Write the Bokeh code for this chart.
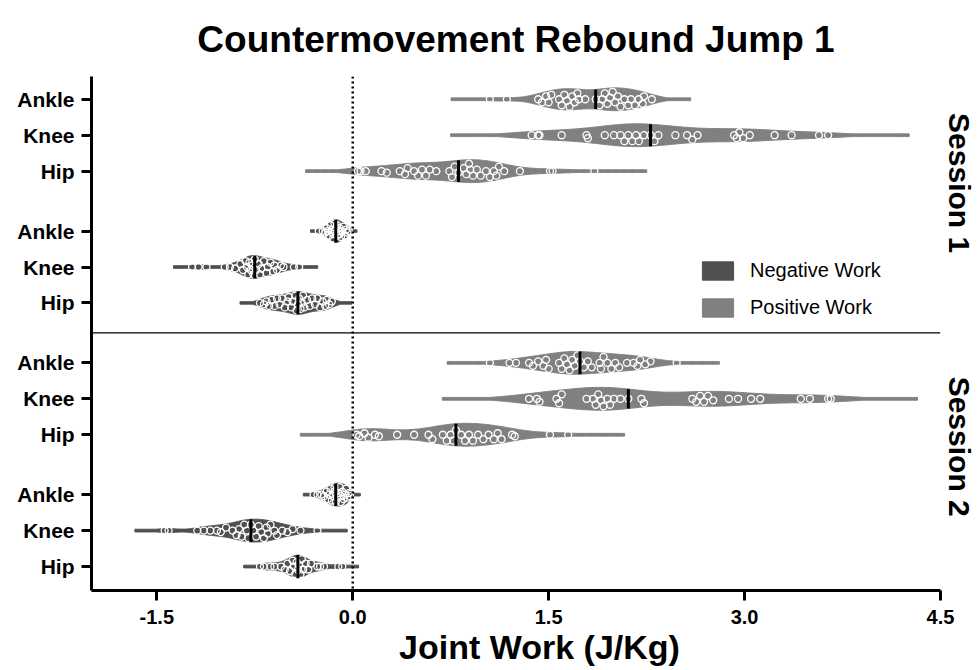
import numpy as np
from bokeh.plotting import figure
from bokeh.models import (Range1d, FixedTicker, NumeralTickFormatter, Span,
                          Legend, LegendItem, ColumnDataSource, LinearAxis)
from bokeh.embed import file_html
from bokeh.resources import INLINE

# ---------------- data ----------------
title_text = "Countermovement Rebound Jump 1"
x_label = "Joint Work (J/Kg)"
joints = ["Ankle", "Knee", "Hip"]
session_labels = ["Session 1", "Session 2"]
work_labels = ["Negative Work", "Positive Work"]
x_ticks = [-1.5, 0.0, 1.5, 3.0, 4.5]

s1_pos_ankle = [1.05, 1.18, 1.42, 1.45, 1.48, 1.50, 1.52, 1.58, 1.60, 1.62, 1.64, 1.66,
                1.68, 1.70, 1.72, 1.73, 1.78, 1.86, 1.89, 1.91, 1.93, 1.95, 1.97, 1.99,
                2.01, 2.03, 2.05, 2.08, 2.11, 2.13, 2.16, 2.19, 2.22, 2.23, 2.29]
s1_pos_knee = [1.37, 1.42, 1.43, 1.60, 1.79, 1.80, 1.93, 2.00, 2.05, 2.08, 2.11, 2.14,
               2.17, 2.19, 2.23, 2.28, 2.31, 2.34, 2.47, 2.56, 2.60, 2.64, 2.92, 2.94,
               2.96, 2.99, 3.04, 3.23, 3.36, 3.57, 3.64]
s1_pos_hip = [0.04, 0.06, 0.10, 0.22, 0.26, 0.36, 0.40, 0.42, 0.47, 0.50, 0.53, 0.56,
              0.59, 0.64, 0.74, 0.76, 0.78, 0.81, 0.85, 0.87, 0.89, 0.90, 0.92, 0.95,
              0.98, 1.02, 1.05, 1.08, 1.10, 1.12, 1.16, 1.28, 1.51, 1.53, 1.85]

s1_neg_ankle = [-0.26, -0.23, -0.21, -0.20, -0.19, -0.18, -0.17, -0.16, -0.15, -0.15,
                -0.14, -0.14, -0.13, -0.12, -0.12, -0.11, -0.10, -0.10, -0.09, -0.08,
                -0.07, -0.06, -0.05, -0.04, -0.03]
s1_neg_knee = [-1.23, -1.18, -1.12, -0.98, -0.94, -0.90, -0.86, -0.84, -0.82, -0.81,
               -0.80, -0.79, -0.78, -0.77, -0.76, -0.75, -0.74, -0.72, -0.71, -0.70,
               -0.68, -0.66, -0.65, -0.63, -0.61, -0.60, -0.58, -0.55, -0.53, -0.45, -0.41]
s1_neg_hip = [-0.71, -0.68, -0.66, -0.64, -0.62, -0.60, -0.58, -0.56, -0.54, -0.52,
              -0.50, -0.49, -0.47, -0.46, -0.44, -0.43, -0.42, -0.41, -0.40, -0.39,
              -0.38, -0.37, -0.35, -0.33, -0.31, -0.29, -0.27, -0.25, -0.23, -0.21,
              -0.20, -0.18, -0.16]

s2_pos_ankle = [1.05, 1.20, 1.25, 1.35, 1.38, 1.42, 1.46, 1.48, 1.50, 1.58, 1.60, 1.62,
                1.64, 1.66, 1.68, 1.70, 1.72, 1.74, 1.77, 1.80, 1.83, 1.89, 1.90, 1.92,
                1.95, 1.98, 2.01, 2.04, 2.10, 2.15, 2.18, 2.20, 2.24, 2.28, 2.48]
s2_pos_knee = [1.35, 1.41, 1.43, 1.56, 1.58, 1.60, 1.79, 1.84, 1.86, 1.88, 1.90, 1.92,
               1.95, 1.97, 2.00, 2.05, 2.11, 2.21, 2.23, 2.60, 2.63, 2.66, 2.69, 2.72,
               2.76, 2.88, 2.95, 3.05, 3.12, 3.43, 3.50, 3.64, 3.66]
s2_pos_hip = [0.03, 0.05, 0.09, 0.12, 0.17, 0.20, 0.34, 0.47, 0.58, 0.61, 0.69, 0.72,
              0.75, 0.77, 0.79, 0.83, 0.86, 0.89, 0.92, 0.96, 1.00, 1.04, 1.08, 1.11,
              1.14, 1.22, 1.24, 1.51, 1.65]

s2_neg_ankle = [-0.30, -0.27, -0.24, -0.22, -0.20, -0.19, -0.18, -0.17, -0.16, -0.15,
                -0.14, -0.14, -0.13, -0.12, -0.11, -0.10, -0.09, -0.09, -0.08, -0.07,
                -0.06, -0.05, -0.04, -0.03, -0.02]
s2_neg_knee = [-1.44, -1.41, -1.19, -1.14, -1.09, -1.04, -1.01, -0.97, -0.92, -0.89,
               -0.87, -0.85, -0.83, -0.81, -0.80, -0.78, -0.76, -0.74, -0.72, -0.70,
               -0.68, -0.66, -0.65, -0.63, -0.60, -0.58, -0.54, -0.50, -0.46, -0.40, -0.27]
s2_neg_hip = [-0.71, -0.68, -0.63, -0.60, -0.55, -0.52, -0.50, -0.48, -0.46, -0.45,
              -0.44, -0.43, -0.42, -0.41, -0.40, -0.39, -0.38, -0.36, -0.34, -0.32,
              -0.27, -0.25, -0.22, -0.11, -0.08]

# groups top-to-bottom: (sign, [ankle, knee, hip])
groups = [
    ("pos", [s1_pos_ankle, s1_pos_knee, s1_pos_hip]),
    ("neg", [s1_neg_ankle, s1_neg_knee, s1_neg_hip]),
    ("pos", [s2_pos_ankle, s2_pos_knee, s2_pos_hip]),
    ("neg", [s2_neg_ankle, s2_neg_knee, s2_neg_hip]),
]

# ---------------- layout / style ----------------
W, H = 978, 668
BL, BT = 91, 75
FRAME_R, FRAME_B = 940, 592
BR, BB = W - FRAME_R, H - FRAME_B
FRAME_W = FRAME_R - BL
FRAME_H = FRAME_B - BT
X0, X1 = -2.0, 4.5
Y_TOP, Y_BOT = -1.9, 41.0
PX_X = FRAME_W / (X1 - X0)
PX_Y = FRAME_H / (Y_BOT - Y_TOP)
GROUP_STEP, ROW_STEP = 11, 3

NEG_COLOR = "#505050"
POS_COLOR = "#808080"
W_MAX = 11.5 / PX_Y
W_MIN = 1.4 / PX_Y
BW_FACTOR = 0.85
D_MIN = 6.5
FONT = "Liberation Sans"


def violin(vals):
    v = np.asarray(vals, float)
    n = len(v)
    sd = v.std(ddof=1)
    q75, q25 = np.percentile(v, [75, 25])
    bw = 0.9 * min(sd, (q75 - q25) / 1.34) * n ** -0.2 * BW_FACTOR
    g = np.linspace(v.min() - 2.6 * bw, v.max() + 2.6 * bw, 300)
    d = np.exp(-0.5 * ((g[:, None] - v[None, :]) / bw) ** 2).sum(1)
    hw = np.maximum(d / d.max() * W_MAX, W_MIN)
    return g, hw


def swarm(vals, g, hw):
    v = np.sort(np.asarray(vals, float))
    placed = []
    offs = []
    step = 1.5
    for val in v:
        xp = val * PX_X
        lim = max(0.0, np.interp(val, g, hw) * PX_Y - 3.0)
        cands = [0.0]
        k = 1
        while k * step <= lim:
            cands += [k * step, -k * step]
            k += 1
        best, best_d = 0.0, -1.0
        for c in cands:
            if placed:
                dmin = min(np.hypot(xp - px, c - py) for px, py in placed)
            else:
                dmin = 1e9
            if dmin >= D_MIN:
                best, best_d = c, dmin
                break
            if dmin > best_d:
                best, best_d = c, dmin
        placed.append((xp, best))
        offs.append(best / PX_Y)
    return v, np.array(offs)


p = figure(width=W, height=H, output_backend="svg", toolbar_location=None,
           x_range=Range1d(X0, X1), y_range=Range1d(Y_BOT, Y_TOP),
           min_border_left=BL, min_border_right=BR, min_border_top=BT,
           min_border_bottom=BB)
p.outline_line_color = None
p.xgrid.visible = False
p.ygrid.visible = False
p.background_fill_color = "white"
p.border_fill_color = "white"

src = {"neg": dict(xs=[], ys=[]), "pos": dict(xs=[], ys=[])}
pts_x, pts_y = [], []
med_x, med_y0, med_y1 = [], [], []
y_ticks, y_tick_labels = [], {}

for gi, (sign, rows) in enumerate(groups):
    for ji, vals in enumerate(rows):
        yc = gi * GROUP_STEP + ji * ROW_STEP
        y_ticks.append(yc)
        y_tick_labels[yc] = joints[ji]
        g, hw = violin(vals)
        src[sign]["xs"].append(np.concatenate([g, g[::-1]]).tolist())
        src[sign]["ys"].append(np.concatenate([yc - hw, (yc + hw)[::-1]]).tolist())
        v, offs = swarm(vals, g, hw)
        pts_x.extend(v.tolist())
        pts_y.extend((yc + offs).tolist())
        m = float(np.median(vals))
        hm = float(np.interp(m, g, hw))
        med_x.append(m)
        med_y0.append(yc - hm)
        med_y1.append(yc + hm)

r_neg = p.patches("xs", "ys", source=ColumnDataSource(src["neg"]),
                  fill_color=NEG_COLOR, line_color=NEG_COLOR, line_width=1)
r_pos = p.patches("xs", "ys", source=ColumnDataSource(src["pos"]),
                  fill_color=POS_COLOR, line_color=POS_COLOR, line_width=1)

p.scatter(pts_x, pts_y, marker="circle", size=7, fill_alpha=0,
          line_color="white", line_width=1.3)
p.segment(med_x, med_y0, med_x, med_y1, line_color="black", line_width=3)

# zero line and session separator
p.add_layout(Span(location=0, dimension="height", line_color="black",
                  line_width=2.5, line_dash="2 3"))
p.add_layout(Span(location=(GROUP_STEP * 2 - (GROUP_STEP - 2 * ROW_STEP) / 2),
                  dimension="width", line_color="black", line_width=1.2))

# axes
for ax in (p.xaxis, p.yaxis):
    ax.axis_line_width = 3
    ax.major_tick_line_width = 3
    ax.major_tick_in = 0
    ax.major_tick_out = 10
    ax.minor_tick_line_color = None
    ax.major_label_text_font = FONT
    ax.major_label_text_font_style = "bold"
    ax.major_label_text_color = "black"

p.xaxis.ticker = FixedTicker(ticks=x_ticks)
p.xaxis.formatter = NumeralTickFormatter(format="0.0")
p.xaxis.major_label_text_font_size = "20px"
p.xaxis.major_label_standoff = 9

p.yaxis.ticker = FixedTicker(ticks=y_ticks)
p.yaxis.major_label_overrides = y_tick_labels
p.yaxis.major_label_text_font_size = "21px"
p.yaxis.major_label_standoff = 7

# x-axis title as an extra (line-less) axis so it can sit off-centre like the reference
p.extra_x_ranges = {"lab": Range1d(0, FRAME_W)}
lab_axis = LinearAxis(x_range_name="lab", ticker=FixedTicker(ticks=[448]),
                      major_label_overrides={448: x_label},
                      axis_line_color=None, major_tick_line_color=None,
                      minor_tick_line_color=None, major_tick_in=0, major_tick_out=0,
                      major_label_standoff=1, major_label_text_font=FONT,
                      major_label_text_font_style="bold",
                      major_label_text_font_size="34px",
                      major_label_text_color="black")
p.add_layout(lab_axis, "below")

# session labels on the right
sess_axis = LinearAxis(ticker=FixedTicker(ticks=[7, 29]),
                       major_label_overrides={7: session_labels[0], 29: session_labels[1]},
                       major_label_orientation="parallel",
                       axis_line_color=None, major_tick_line_color=None,
                       minor_tick_line_color=None, major_tick_in=0, major_tick_out=0,
                       major_label_standoff=2, major_label_text_font=FONT,
                       major_label_text_font_style="bold",
                       major_label_text_font_size="30px",
                       major_label_text_color="black")
p.add_layout(sess_axis, "right")

# title
p.title.text = title_text
p.title.align = "center"
p.title.text_font = FONT
p.title.text_font_style = "bold"
p.title.text_font_size = "37px"
p.title.text_color = "black"
p.title.standoff = 33

legend = Legend(items=[LegendItem(label=work_labels[0], renderers=[r_neg]),
                       LegendItem(label=work_labels[1], renderers=[r_pos])],
                location=(607, 271), orientation="vertical",
                glyph_width=39, glyph_height=23, label_height=23,
                label_standoff=13, spacing=14, padding=0, margin=0,
                label_text_font=FONT, label_text_font_size="20px",
                label_text_color="black",
                border_line_color=None, background_fill_alpha=0)
p.add_layout(legend)

open("out.html", "w").write(file_html(p, INLINE))
